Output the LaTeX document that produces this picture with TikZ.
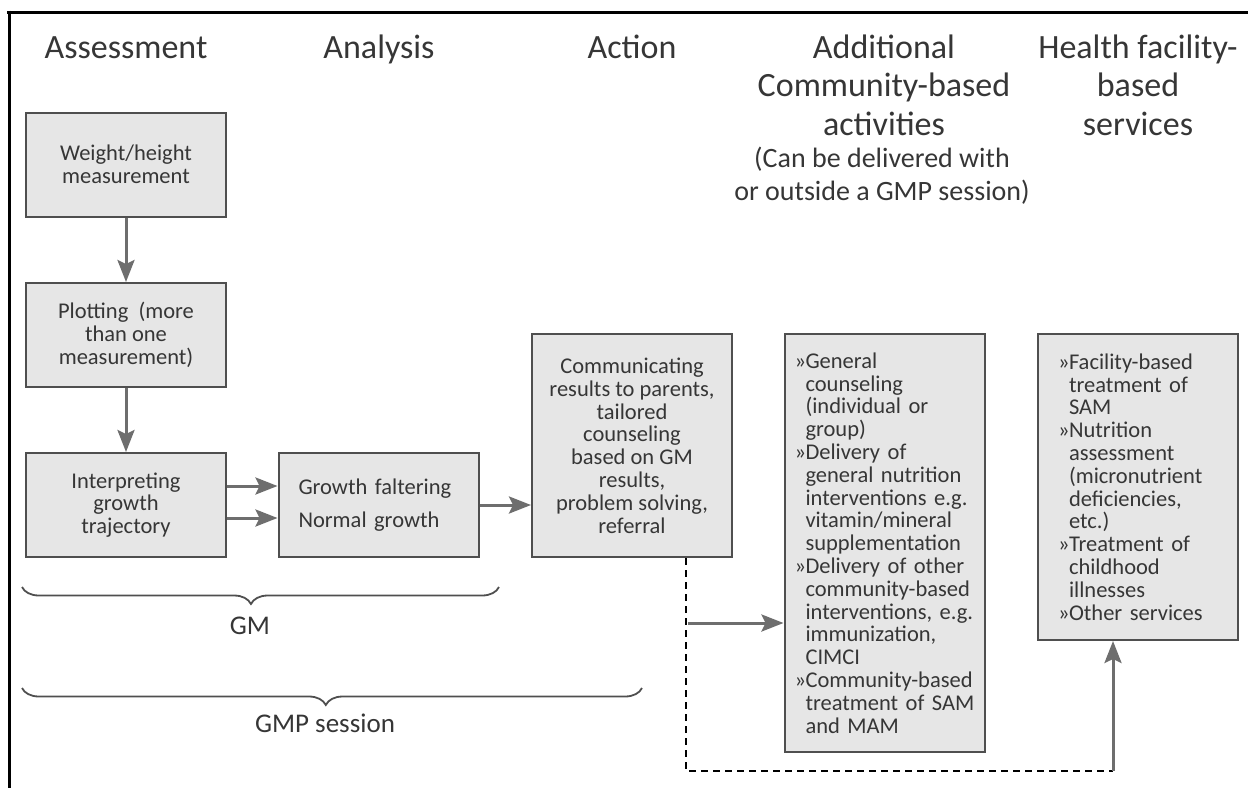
\documentclass[tikz,border=0pt]{standalone}
\usepackage{fontspec}
\setmainfont{Carlito}
\usetikzlibrary{arrows.meta,decorations.pathreplacing}
\definecolor{boxfill}{HTML}{E6E6E6}
\definecolor{boxline}{HTML}{4F4F4F}
\definecolor{arrowgray}{HTML}{6E6E6E}
\definecolor{inkgray}{HTML}{363636}
\newcommand{\hdfont}{\fontsize{34}{38.5}\selectfont}
\newcommand{\subfont}{\fontsize{28}{33}\selectfont}
\newcommand{\bxfont}{\fontsize{22.5}{22.8}\selectfont\lineskiplimit=-20pt}
\newcommand{\itm}{\makebox[11pt][l]{»}}
\newcommand{\cnt}{\hspace*{11pt}}
\tikzset{
  stage/.style={font=\hdfont, text=inkgray, align=center, anchor=base, inner sep=0pt},
  gmpbox/.style={draw=boxline, line width=2pt, fill=boxfill, text=inkgray, font=\bxfont,
    minimum width=200pt, minimum height=104pt, align=center, inner sep=0pt},
  flow/.style={draw=arrowgray, line width=3pt, -{Stealth[length=22pt,width=17pt,inset=4pt]}},
  span/.style={draw=boxline, line width=1.8pt, decorate},
  spanlabel/.style={font=\fontsize{27}{30}\selectfont, text=inkgray, anchor=base, inner sep=0pt}
}
\begin{document}
\begin{tikzpicture}[x=1pt,y=-1pt]
\useasboundingbox (0,0) rectangle (1248,788);
\draw[line width=3pt] (7,12) -- (1248,12);
\draw[line width=3pt] (9,10.5) -- (9,788);

\node[stage] (hassess) at (126,58) {Assessment};
\node[stage] (hanalys) at (379,58) {Analysis};
\node[stage] (haction) at (632,58) {Action};
\node[stage] (hcommun) at (884,135) {Additional\\Community-based\\activities};
\node[stage, font=\subfont] (hnote) at (882,200) {(Can be delivered with\\or outside a GMP session)};
\node[stage] (hfacil) at (1138,135) {Health facility-\\based\\services};

\node[gmpbox] (weigh) at (126,164.5) {Weight/height\\measurement};
\node[gmpbox] (plot) at (126,335) {Plotting\ \ (more\\than one\\measurement)};
\node[gmpbox] (interp) at (126,505) {Interpreting\\growth\\trajectory};
\node[gmpbox, align=left, text width=160pt] (growth) at (378.5,505) {Growth faltering\\[10pt]Normal growth};
\node[gmpbox, minimum height=223pt] (comm) at (632,445.5) {Communicating\\results to parents,\\tailored\\counseling\\based on GM\\results,\\problem solving,\\referral};
\node[gmpbox, minimum height=418pt, align=left, text width=180pt] (addl) at (884.5,543) {\itm General\\\cnt counseling\\\cnt (individual or\\\cnt group)\\\itm Delivery of\\\cnt general nutrition\\\cnt interventions e.g.\\\cnt vitamin/mineral\\\cnt supplementation\\\itm Delivery of other\\\cnt community-based\\\cnt interventions, e.g.\\\cnt immunization,\\\cnt CIMCI\\\itm Community-based\\\cnt treatment of SAM\\\cnt and MAM};
\node[gmpbox, minimum height=306pt, align=left, text width=160pt] (facil) at (1138,487) {\itm Facility-based\\\cnt treatment of\\\cnt SAM\\\itm Nutrition\\\cnt assessment\\\cnt (micronutrient\\\cnt deficiencies,\\\cnt etc.)\\\itm Treatment of\\\cnt childhood\\\cnt illnesses\\\itm Other services};

\draw[flow] (weigh) -- (plot);
\draw[flow] (plot) -- (interp);
\draw[flow] ([yshift=19pt]interp.east) -- ([yshift=19pt]growth.west);
\draw[flow] ([yshift=-13pt]interp.east) -- ([yshift=-13pt]growth.west);
\draw[flow] (growth.east) -- (growth.east -| comm.west);

\coordinate (drop) at (686,771);
\coordinate (rise) at (1113,771);
\coordinate (fork) at (688,623);
\draw[line width=1.5pt, dash pattern=on 7pt off 5pt] (comm.south -| drop) -- (drop) -- (rise);
\draw[flow] (fork) -- (fork -| addl.west);
\draw[flow] (rise) -- (rise |- facil.south);

\draw[span, decoration={brace, mirror, amplitude=17pt, aspect=0.48}] (22,587) -- (499,587);
\node[spanlabel] (gm) at (250,634) {GM};
\draw[span, decoration={brace, mirror, amplitude=17pt, aspect=0.49}] (22,688) -- (642,688);
\node[spanlabel] (gmp) at (325,732) {GMP session};
\end{tikzpicture}
\end{document}
